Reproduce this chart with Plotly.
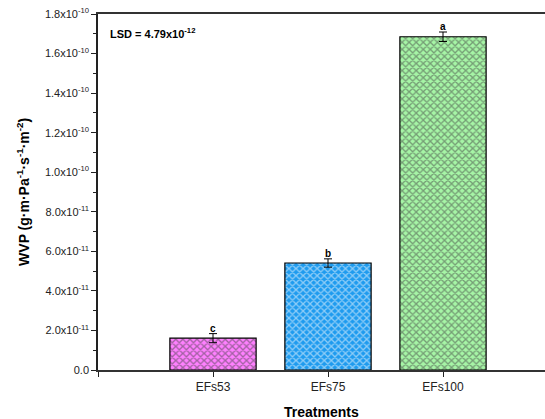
import plotly.graph_objects as go

categories = ["EFs53", "EFs75", "EFs100"]
positions = [1, 2, 3]
wvp = [1.61e-11, 5.41e-11, 1.685e-10]
wvp_err = [0.23e-11, 0.21e-11, 0.24e-11]
letters = ["c", "b", "a"]
colors = ["#FF80FF", "#1E9BEF", "#A6F5A6"]
y_tickvals = [0, 2e-11, 4e-11, 6e-11, 8e-11, 1.0e-10, 1.2e-10, 1.4e-10, 1.6e-10, 1.8e-10]
y_ticktext = ["0.0", "2.0x10<sup>-11</sup>", "4.0x10<sup>-11</sup>", "6.0x10<sup>-11</sup>",
              "8.0x10<sup>-11</sup>", "1.0x10<sup>-10</sup>", "1.2x10<sup>-10</sup>",
              "1.4x10<sup>-10</sup>", "1.6x10<sup>-10</sup>", "1.8x10<sup>-10</sup>"]
lsd_text = "LSD = 4.79x10<sup>-12</sup>"

FONT = "Liberation Sans, Arial, sans-serif"

fig = go.Figure()
fig.add_trace(go.Bar(
    x=positions, y=wvp, width=0.75,
    marker=dict(color=colors, line=dict(color="black", width=1.2),
                pattern=dict(shape="x", fgcolor="white", bgcolor=colors, size=5, solidity=0.45, fillmode="overlay")),
    error_y=dict(type="data", array=wvp_err, color="black", thickness=1, width=4),
    showlegend=False,
))

for xp, v, e, l in zip(positions, wvp, wvp_err, letters):
    fig.add_annotation(x=xp, y=v + e, text="<b>" + l + "</b>", showarrow=False,
                       yanchor="bottom", yshift=-2, font=dict(family=FONT, size=10, color="black"))

fig.add_annotation(xref="paper", yref="paper", x=0.022, y=0.947, xanchor="left", yanchor="middle",
                   text="<b>" + lsd_text + "</b>", showarrow=False,
                   font=dict(family=FONT, size=11, color="black"))

fig.add_annotation(xref="paper", yref="paper", x=0.5, y=-0.09, xanchor="center", yanchor="top",
                   text="<b>Treatments</b>", showarrow=False,
                   font=dict(family=FONT, size=14, color="black"))

fig.add_annotation(xref="paper", yref="paper", x=-0.168, y=0.5, xanchor="center", yanchor="middle",
                   textangle=-90,
                   text="<b>WVP (g·m·Pa<sup>-1</sup>·s<sup>-1</sup>·m<sup>-2</sup>)</b>", showarrow=False,
                   font=dict(family=FONT, size=14, color="black"))

fig.update_layout(
    width=545, height=419,
    margin=dict(l=98, r=0, t=14, b=49),
    plot_bgcolor="white", paper_bgcolor="white",
    font=dict(family=FONT, size=11, color="#222"),
    xaxis=dict(range=[0, 3.887], tickvals=[0] + positions, ticktext=[""] + categories,
               ticks="outside", ticklen=5, tickcolor="#222", showline=True, linecolor="#333", linewidth=1.5,
               mirror=True,
               showgrid=False, zeroline=False, automargin=False,
               tickfont=dict(size=12)),
    yaxis=dict(range=[0, 1.8e-10], tickvals=y_tickvals, ticktext=y_ticktext,
               ticks="outside", ticklen=5, tickcolor="#222", showline=True, linecolor="#222", linewidth=1.5,
               showgrid=False, zeroline=False, automargin=False, ticklabeloverflow="allow",
               minor=dict(ticks="outside", ticklen=3, tickcolor="#222", dtick=1e-11),
               tickfont=dict(size=11)),
)

fig.write_html("out.html", config={"displayModeBar": False},
               post_script="document.body.style.margin='0';document.body.style.overflow='hidden';")
